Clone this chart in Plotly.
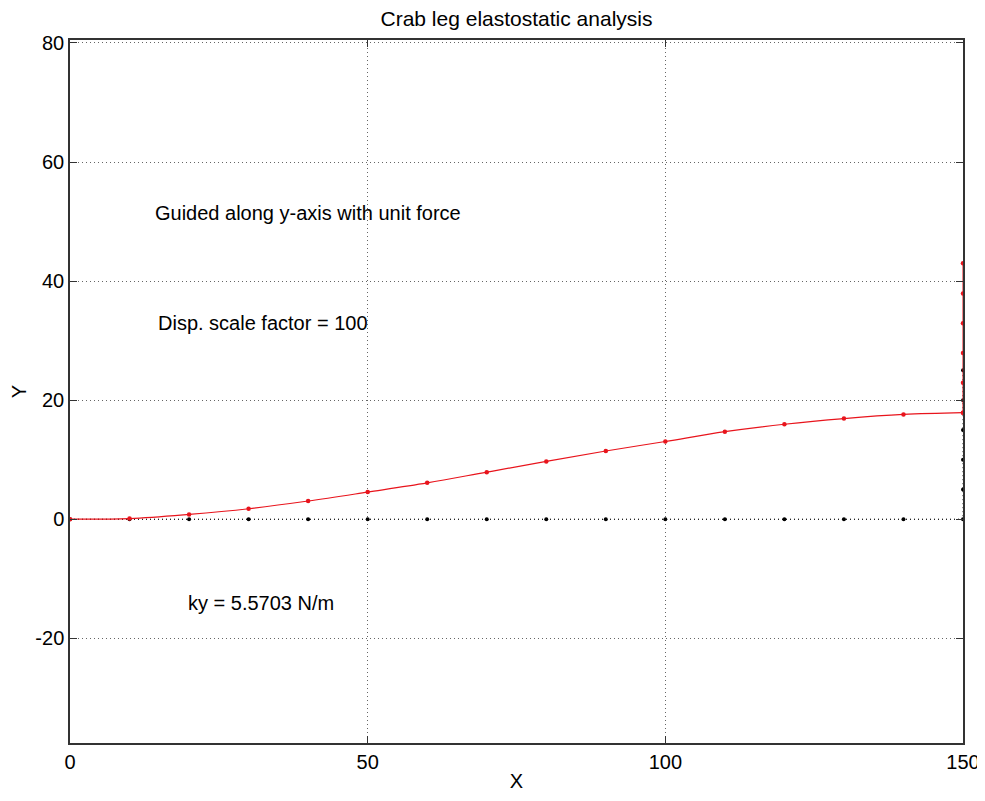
import plotly.graph_objects as go

# Node positions (undeformed) along the beam and the guided vertical segment
beam_x = [0, 10, 20, 30, 40, 50, 60, 70, 80, 90, 100, 110, 120, 130, 140, 150]
beam_y_undeformed = [0, 0, 0, 0, 0, 0, 0, 0, 0, 0, 0, 0, 0, 0, 0, 0]
guide_x = [150, 150, 150, 150, 150, 150]
guide_y_undeformed = [0, 5, 10, 15, 20, 25]

# Deformed positions (displacement scale factor = 100)
beam_y_deformed = [0, 0.1, 0.8, 1.75, 3.05, 4.55, 6.1, 7.9, 9.7, 11.45, 13.05,
                   14.7, 15.95, 16.9, 17.6, 17.9]
guide_y_deformed = [17.9, 22.9, 27.9, 32.9, 37.9, 43.0]

x_ticks = [0, 50, 100, 150]
x_tick_labels = ["0", "50", "100", "150"]
y_ticks = [-20, 0, 20, 40, 60, 80]
y_tick_labels = ["-20", "0", "20", "40", "60", "80"]

FONT = "Liberation Sans, Arial, sans-serif"
RED = "#e8141c"

# The page body has an 8px default margin; keep the page inside the window
W, H = 977, 785

fig = go.Figure()

# Undeformed shape: black dotted line with dots
fig.add_trace(go.Scatter(
    x=beam_x + guide_x[1:], y=beam_y_undeformed + guide_y_undeformed[1:],
    mode="lines+markers",
    line=dict(color="black", width=1, dash="1px,3px"),
    marker=dict(color="black", size=4),
    showlegend=False, hoverinfo="x+y"))

# Deformed shape: red line with dots
fig.add_trace(go.Scatter(
    x=beam_x, y=beam_y_deformed,
    mode="lines+markers",
    line=dict(color=RED, width=1.2, shape="spline"),
    marker=dict(color=RED, size=4.5),
    showlegend=False, hoverinfo="x+y"))
fig.add_trace(go.Scatter(
    x=guide_x, y=guide_y_deformed,
    mode="lines+markers",
    line=dict(color=RED, width=1),
    marker=dict(color=RED, size=4.5),
    showlegend=False, hoverinfo="x+y"))

ann_font = dict(family=FONT, size=20, color="black")
fig.add_annotation(x=13.9, y=51.5, text="Guided along y-axis with unit force",
                   showarrow=False, xanchor="left", yanchor="middle", font=ann_font)
fig.add_annotation(x=14.4, y=32.9, text="Disp. scale factor = 100",
                   showarrow=False, xanchor="left", yanchor="middle", font=ann_font)
fig.add_annotation(x=19.5, y=-14.1, text="ky = 5.5703 N/m",
                   showarrow=False, xanchor="left", yanchor="middle", font=ann_font)

axis_common = dict(
    showline=True, linecolor="#333333", linewidth=1.5, mirror="ticks",
    ticks="inside", ticklen=7, tickcolor="#333333",
    showgrid=True, gridcolor="#666666", griddash="1px,3px", gridwidth=1,
    zeroline=False, automargin=False, layer="above traces",
    tickfont=dict(family=FONT, size=20, color="black"),
)

fig.update_xaxes(range=[0, 150], tickvals=x_ticks, ticktext=x_tick_labels,
                 **axis_common,
                 title=dict(text="X", font=dict(family=FONT, size=20, color="black"),
                            standoff=2))
fig.update_yaxes(range=[-37.6, 80.5], tickvals=y_ticks, ticktext=y_tick_labels,
                 **axis_common,
                 title=dict(text="Y", font=dict(family=FONT, size=20, color="black"),
                            standoff=8))

fig.update_layout(
    width=W, height=H,
    margin=dict(l=62, r=22, t=32, b=50),
    paper_bgcolor="white", plot_bgcolor="white",
    font=dict(family=FONT, size=20, color="black"),
    title=dict(text="Crab leg elastostatic analysis", x=0.5, xref="paper",
               xanchor="center", y=1 - 11 / H, yref="container", yanchor="middle",
               font=dict(family=FONT, size=21, color="black")),
)

fig.write_html("out.html")
